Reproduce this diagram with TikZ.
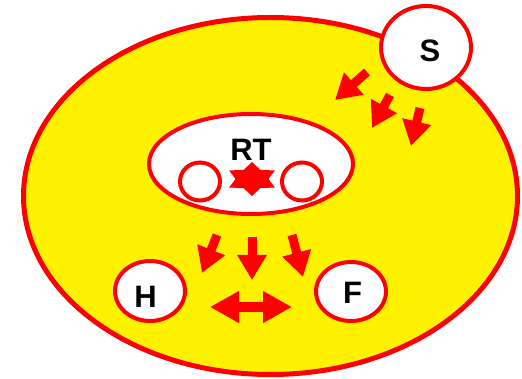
\documentclass[tikz,border=0pt]{standalone}
\usepackage{fontspec}
\setmainfont{Liberation Sans}
\usetikzlibrary{shapes.geometric,arrows.meta}

\tikzset{
  ring/.style={ellipse, draw=red, line width=4pt, fill=white, inner sep=0pt},
  lbl/.style={font=\fontsize{31}{31}\selectfont\bfseries, inner sep=0pt},
  blockarrow/.style={draw=red, line width=9pt, -{Triangle[width=28pt,length=25pt]}},
  twoway/.style={draw=red, line width=10pt, {Triangle[width=30pt,length=29pt]}-{Triangle[width=30pt,length=29pt]}},
}

\begin{document}
\begin{tikzpicture}[x=1pt,y=-1pt]
			\useasboundingbox (0,0) rectangle (522,379);
			% outer cell
			\node[ring, fill=yellow, line width=5pt, minimum width=494pt, minimum height=357pt] (cell) at (270.5,196) {};

			\node[ring, minimum width=90pt, minimum height=83pt] (S) at (426,47.5) {};
			\node[lbl] (Stext) at (430,51) {S};

			% inner part
			\node[ring, minimum width=204pt, minimum height=100pt] (RT) at (251,164) {};
			\node[lbl] (RTtext) at (251,150) {RT};
			\node[ring, minimum width=40pt, minimum height=38pt] (left) at (200,181.5) {};
			\node[ring, minimum width=40pt, minimum height=38pt] (right) at (302,181.5) {};
			\node[star, star points=6, star point ratio=1.6, fill=red, minimum size=34pt, inner sep=0pt, xscale=1.55] (core) at (252,179) {};

			\node[ring, minimum width=70pt, minimum height=60pt] (H) at (150,291) {};
			\node[lbl] (Htext) at (145.5,297) {H};
			\node[ring, minimum width=70pt, minimum height=59pt] (F) at (351,291.5) {};
			\node[lbl] (Ftext) at (352.5,293) {F};

			% arrows from S
			\draw[blockarrow] (367,72) -- (335,100);
			\draw[blockarrow] (390,95) -- (372,128);
			\draw[blockarrow] (420,108) -- (411,146);

			% arrows down from RT
			\draw[blockarrow] (217,235) -- (202,273);
			\draw[blockarrow] (252,237) -- (252,280);
			\draw[blockarrow] (292,235) -- (303,277);

			\draw[twoway] (210,307) -- (292,307);
		\end{tikzpicture}
\end{document}
